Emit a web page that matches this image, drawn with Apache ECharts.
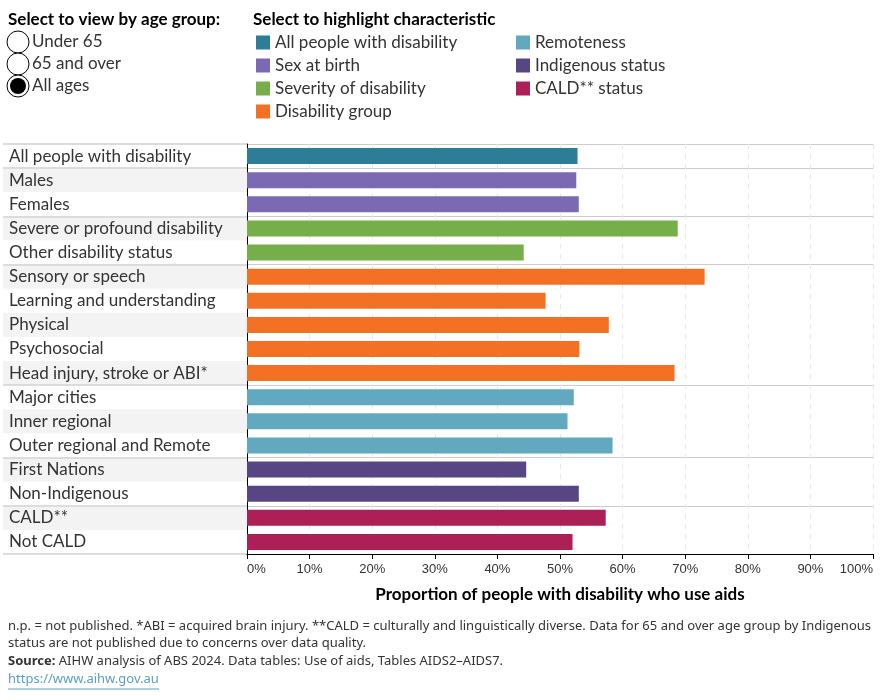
<!DOCTYPE html>
<html>
<head>
<meta charset="utf-8">
<script src="https://cdn.jsdelivr.net/npm/echarts@6/dist/echarts.min.js"></script>
<style>
  html, body { margin: 0; padding: 0; background: #fff; }
  #chart { width: 890px; height: 700px; }
</style>
</head>
<body>
<div id="chart"></div>
<script>
// data
var categories = [
    'All people with disability', 'Males', 'Females',
    'Severe or profound disability', 'Other disability status',
    'Sensory or speech', 'Learning and understanding', 'Physical', 'Psychosocial', 'Head injury, stroke or ABI*',
    'Major cities', 'Inner regional', 'Outer regional and Remote',
    'First Nations', 'Non-Indigenous',
    'CALD**', 'Not CALD'
];
var values = [52.8, 52.6, 53.0, 68.8, 44.2, 73.1, 47.7, 57.8, 53.1, 68.3, 52.2, 51.2, 58.4, 44.6, 53.0, 57.3, 52.0];
var groupOf = [0, 1, 1, 2, 2, 3, 3, 3, 3, 3, 4, 4, 4, 5, 5, 6, 6];
var groupNames = ['All people with disability', 'Sex at birth', 'Severity of disability', 'Disability group',
    'Remoteness', 'Indigenous status', 'CALD** status'];
var groupColors = ['#2d7d98', '#7c69b4', '#76ae4a', '#f37124', '#62a9c0', '#574683', '#ac1f57'];
var ageOptions = ['Under 65', '65 and over', 'All ages'];
var selectedAge = 2;

var labelFont = 'Lato';
var dark = '#333333';

// rows where a new group starts (plus the bottom edge)
var groupStarts = [];
for (var i = 0; i <= categories.length; i++) {
    if (i == 0 || i == categories.length || groupOf[i] != groupOf[i - 1]) groupStarts.push(i);
}
var isGroupStart = function (idx) { return groupStarts.indexOf(idx) >= 0; };

var series = groupNames.map(function (name, g) {
    return {
        name: name,
        type: 'bar',
        xAxisIndex: 1,
        yAxisIndex: 1,
        stack: 'one',
        barWidth: 16,
        itemStyle: { color: groupColors[g] },
        data: values.map(function (v, k) { return groupOf[k] == g ? v : '-'; })
    };
});

var radioItems = [];
ageOptions.forEach(function (txt, k) {
    var cy = 42 + k * 22;
    radioItems.push({ type: 'circle', shape: { cx: 18, cy: cy, r: 11 }, style: { fill: '#fff', stroke: '#000', lineWidth: 1 } });
    if (k == selectedAge) {
        radioItems.push({ type: 'circle', shape: { cx: 18, cy: cy, r: 8 }, style: { fill: '#000' } });
    }
    radioItems.push({ type: 'text', x: 32, y: cy, style: { text: txt, font: '17px ' + labelFont, fill: dark, textVerticalAlign: 'middle' } });
});

var footFont = '13px "Noto Sans"';
var footnotes = [
    { type: 'text', x: 8, y: 620, style: { text: 'n.p. = not published. *ABI = acquired brain injury. **CALD = culturally and linguistically diverse. Data for 65 and over age group by Indigenous', font: footFont, fill: dark } },
    { type: 'text', x: 8, y: 637, style: { text: 'status are not published due to concerns over data quality.', font: footFont, fill: dark } },
    { type: 'text', x: 8, y: 655, style: {
        text: '{b|Source:} AIHW analysis of ABS 2024. Data tables: Use of aids, Tables AIDS2–AIDS7.',
        font: footFont, fill: dark,
        rich: { b: { fontWeight: 'bold', fontFamily: 'Noto Sans', fontSize: 13, color: dark } }
    } },
    { type: 'text', x: 8, y: 673, style: { text: 'https://www.aihw.gov.au', font: footFont, fill: '#5a9fc4' } },
    { type: 'line', shape: { x1: 8, y1: 689, x2: 159, y2: 689 }, style: { stroke: '#5a9fc4', lineWidth: 1 } }
];

var option = {
    animation: false,
    backgroundColor: '#fff',
    title: [
        { text: 'Select to view by age group:', left: 8, top: 11, padding: 0,
          textStyle: { fontFamily: labelFont, fontSize: 17, fontWeight: 'bold', color: '#000' } },
        { text: 'Select to highlight characteristic', left: 253, top: 11, padding: 0,
          textStyle: { fontFamily: labelFont, fontSize: 17, fontWeight: 'bold', color: '#000' } }
    ],
    legend: [
        { data: groupNames.slice(0, 4), left: 256, top: 34, orient: 'vertical', icon: 'rect', padding: 0,
          itemWidth: 14, itemHeight: 14, itemGap: 6, textStyle: { fontFamily: labelFont, fontSize: 17, color: dark } },
        { data: groupNames.slice(4), left: 516, top: 34, orient: 'vertical', icon: 'rect', padding: 0,
          itemWidth: 14, itemHeight: 14, itemGap: 6, textStyle: { fontFamily: labelFont, fontSize: 17, color: dark } }
    ],
    grid: [
        { left: 3, width: 244, top: 144, bottom: 146 },
        { left: 247, right: 17, top: 144, bottom: 146 }
    ],
    xAxis: [
        { gridIndex: 0, type: 'value', show: false, min: 0, max: 1 },
        {
            gridIndex: 1, type: 'value', min: 0, max: 100, interval: 10,
            name: 'Proportion of people with disability who use aids',
            nameLocation: 'middle', nameGap: 32,
            nameTextStyle: { fontFamily: labelFont, fontSize: 17, fontWeight: 'bold', color: '#000' },
            axisLine: { show: true, lineStyle: { color: '#000', width: 1 } },
            axisTick: { show: true, length: 5, lineStyle: { color: '#000' } },
            axisLabel: { formatter: '{value}%', fontFamily: 'Liberation Sans', fontSize: 13, color: dark, margin: 9,
                         alignMinLabel: 'left', alignMaxLabel: 'right' },
            splitLine: { show: true, lineStyle: { color: '#e8e8e8', type: [5, 5] } }
        }
    ],
    yAxis: [
        {
            gridIndex: 0, type: 'category', inverse: true, data: categories,
            axisLine: { show: false }, axisTick: { show: false },
            axisLabel: { inside: true, margin: 6, fontFamily: labelFont, fontSize: 17, color: dark, interval: 0 },
            splitArea: { show: true, interval: 0, areaStyle: { color: ['#ffffff', '#f3f3f3'] } },
            splitLine: { show: true, interval: isGroupStart, lineStyle: { color: '#dcdcdc', width: 2 } }
        },
        {
            gridIndex: 1, type: 'category', inverse: true, data: categories,
            axisLine: { show: true, lineStyle: { color: '#000', width: 1 } }, axisTick: { show: false },
            axisLabel: { show: false },
            splitLine: { show: true, interval: isGroupStart, lineStyle: { color: '#cccccc', width: 1 } }
        }
    ],
    graphic: radioItems.concat(footnotes),
    series: series
};

var chart = echarts.init(document.getElementById('chart'), null, { renderer: 'canvas' });
chart.setOption(option);
</script>
</body>
</html>
